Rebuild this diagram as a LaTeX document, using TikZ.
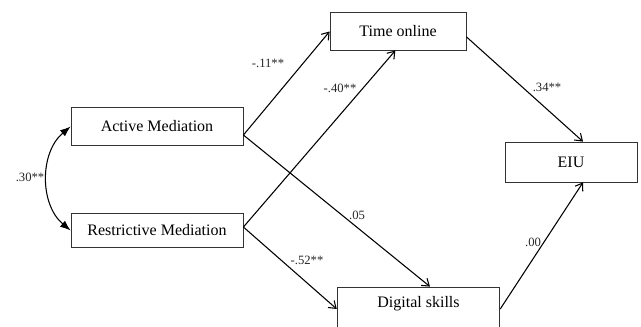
\documentclass[tikz,border=0pt]{standalone}
\usepackage{fontspec}
\setmainfont{Liberation Serif}
\usepackage{tikz}
\usetikzlibrary{calc,positioning,arrows.meta}

\begin{document}
\begin{tikzpicture}[x=0.75pt,y=-0.75pt,
  box/.style={draw=black!80,line width=0.6pt,inner sep=0pt,font=\fontsize{12}{14}\selectfont},
  lbl/.style={inner sep=0pt,font=\fontsize{9.5}{11}\selectfont,text=black!85},
  path/.style={-{Straight Barb[length=5pt,width=7pt]},line width=0.8pt}]
\useasboundingbox (0,0) rectangle (641,327);
\clip (0,0) rectangle (641,327);

\node (act) [box,minimum width=129pt,minimum height=28pt] at (157,126.5) {Active Mediation};
\node (res) [box,minimum width=129pt,minimum height=26pt] at (157,230.5) {Restrictive Mediation};
\node (time) [box,minimum width=102pt,minimum height=28pt] at (398,31.5) {Time online};
\node (eiu) [box,minimum width=99pt,minimum height=30pt] at (571,162) {EIU};
\node (dig) [box,minimum width=122pt,minimum height=33pt,text height=9pt,text depth=12pt] at (418.5,309) {Digital skills};

\coordinate (actout) at ([yshift=-6.4pt]act.east);
\coordinate (resout) at ([yshift=2.6pt]res.east);

\draw [path] (actout) -- (time.west);
\draw [path] (actout) -- ([xshift=8.6pt]dig.north);
\draw [path] (resout) -- ([xshift=-2pt]time.south);
\draw [path] (resout) -- (dig.west);
\draw [path] ([yshift=-4pt]time.east) -- ([xshift=9pt]eiu.north);
\draw [path] (dig.east) -- ([xshift=9pt]eiu.south);
\draw [{Latex[scale=1.2]}-{Latex[scale=1.2]},line width=0.8pt] (act.west) to[bend right=50] (res.west);

\node (l1) [lbl] at (30,177) {.30**};
\node (l2) [lbl] at (268,63) {-.11**};
\node (l3) [lbl] at (340,88) {-.40**};
\node (l4) [lbl] at (357,215) {.05};
\node (l5) [lbl] at (307,260) {-.52**};
\node (l6) [lbl] at (547,87) {.34**};
\node (l7) [lbl] at (533,242) {.00};
\end{tikzpicture}
\end{document}
